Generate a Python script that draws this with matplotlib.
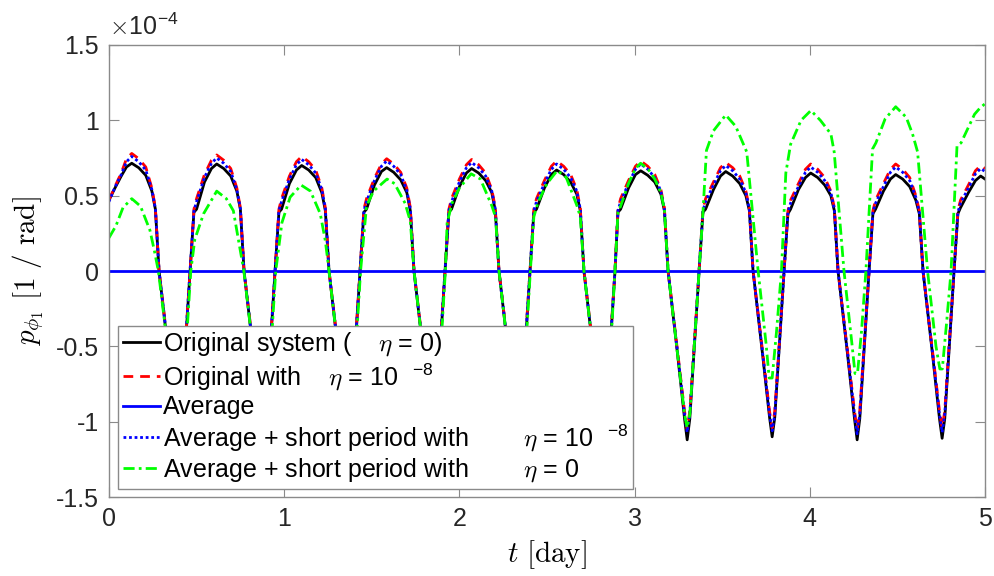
import numpy as np
import matplotlib
matplotlib.use('Agg')
import matplotlib.pyplot as plt
from matplotlib.ticker import FuncFormatter

plt.rcParams['font.family'] = ['Liberation Sans', 'DejaVu Sans']
plt.rcParams['mathtext.fontset'] = 'cm'
plt.rcParams['axes.unicode_minus'] = False

# values in units of 1e-4
# time grid shared by the original / eta=1e-8 / averaged+short-period curves
t_orig = [
    0.0, 0.034, 0.07, 0.10, 0.13, 0.17, 0.21, 0.245, 0.265, 0.286, 0.34, 0.38, 0.395, 0.41, 0.463,
    0.485, 0.50, 0.545, 0.585, 0.615, 0.655, 0.695, 0.73, 0.75, 0.771, 0.825, 0.865, 0.88, 0.895, 0.948,
    0.97, 0.985, 1.03, 1.07, 1.10, 1.14, 1.18, 1.215, 1.235, 1.256, 1.31, 1.35, 1.365, 1.38, 1.433,
    1.455, 1.47, 1.515, 1.555, 1.585, 1.625, 1.665, 1.70, 1.72, 1.741, 1.795, 1.835, 1.85, 1.865, 1.918,
    1.94, 1.955, 2.00, 2.04, 2.07, 2.11, 2.15, 2.185, 2.205, 2.226, 2.28, 2.32, 2.335, 2.35, 2.403,
    2.425, 2.44, 2.485, 2.525, 2.555, 2.595, 2.635, 2.67, 2.69, 2.711, 2.765, 2.805, 2.82, 2.835, 2.888,
    2.905, 2.92, 2.965, 3.005, 3.035, 3.075, 3.115, 3.15, 3.17, 3.191, 3.245, 3.285, 3.30, 3.315, 3.368,
    3.39, 3.405, 3.45, 3.49, 3.52, 3.56, 3.60, 3.635, 3.655, 3.676, 3.73, 3.77, 3.785, 3.80, 3.853,
    3.875, 3.89, 3.935, 3.975, 4.005, 4.045, 4.085, 4.12, 4.14, 4.161, 4.215, 4.255, 4.27, 4.285, 4.338,
    4.36, 4.375, 4.42, 4.46, 4.49, 4.53, 4.57, 4.605, 4.625, 4.646, 4.70, 4.74, 4.755, 4.77, 4.823,
    4.845, 4.86, 4.905, 4.945, 4.975, 5.0,
]

p_original = [
    0.47, 0.55, 0.63, 0.69, 0.715, 0.685, 0.635, 0.53, 0.41, 0.0, -0.55, -0.98, -1.10, -0.98, 0.0,
    0.39, 0.41, 0.59, 0.68, 0.71, 0.68, 0.63, 0.53, 0.41, 0.0, -0.55, -0.98, -1.10, -0.98, 0.0,
    0.39, 0.41, 0.58, 0.67, 0.70, 0.67, 0.62, 0.52, 0.40, 0.0, -0.55, -0.98, -1.10, -0.98, 0.0,
    0.39, 0.41, 0.57, 0.66, 0.686, 0.655, 0.605, 0.52, 0.40, 0.0, -0.55, -0.98, -1.10, -0.98, 0.0,
    0.39, 0.41, 0.56, 0.65, 0.68, 0.65, 0.60, 0.52, 0.40, 0.0, -0.55, -0.98, -1.10, -0.98, 0.0,
    0.39, 0.41, 0.55, 0.64, 0.67, 0.64, 0.59, 0.51, 0.40, 0.0, -0.55, -0.98, -1.10, -0.98, 0.0,
    0.39, 0.41, 0.55, 0.64, 0.665, 0.635, 0.59, 0.51, 0.40, 0.0, -0.55, -0.98, -1.12, -0.98, 0.0,
    0.39, 0.41, 0.54, 0.63, 0.66, 0.63, 0.58, 0.50, 0.40, 0.0, -0.55, -0.97, -1.10, -0.97, 0.0,
    0.38, 0.41, 0.54, 0.62, 0.65, 0.62, 0.57, 0.50, 0.40, 0.0, -0.55, -0.98, -1.12, -0.98, 0.0,
    0.38, 0.41, 0.53, 0.61, 0.64, 0.61, 0.56, 0.47, 0.38, 0.0, -0.55, -0.98, -1.11, -0.98, 0.0,
    0.38, 0.42, 0.52, 0.60, 0.63, 0.61,
]

p_original_eta = [
    0.47, 0.56, 0.65, 0.745, 0.78, 0.745, 0.69, 0.55, 0.42, 0.0, -0.53, -0.93, -1.05, -0.93, 0.0,
    0.41, 0.48, 0.64, 0.735, 0.77, 0.735, 0.68, 0.55, 0.42, 0.0, -0.53, -0.93, -1.05, -0.93, 0.0,
    0.41, 0.48, 0.63, 0.725, 0.76, 0.725, 0.67, 0.55, 0.42, 0.0, -0.53, -0.93, -1.05, -0.93, 0.0,
    0.41, 0.48, 0.615, 0.71, 0.745, 0.71, 0.655, 0.55, 0.42, 0.0, -0.53, -0.93, -1.05, -0.93, 0.0,
    0.41, 0.48, 0.61, 0.705, 0.74, 0.705, 0.65, 0.54, 0.42, 0.0, -0.53, -0.93, -1.05, -0.93, 0.0,
    0.41, 0.48, 0.60, 0.695, 0.73, 0.695, 0.64, 0.54, 0.42, 0.0, -0.53, -0.93, -1.05, -0.93, 0.0,
    0.41, 0.48, 0.60, 0.695, 0.73, 0.695, 0.64, 0.54, 0.42, 0.0, -0.53, -0.93, -1.05, -0.93, 0.0,
    0.41, 0.48, 0.59, 0.685, 0.72, 0.685, 0.63, 0.53, 0.42, 0.0, -0.53, -0.93, -1.04, -0.93, 0.0,
    0.40, 0.47, 0.58, 0.675, 0.71, 0.675, 0.62, 0.53, 0.42, 0.0, -0.53, -0.93, -1.05, -0.93, 0.0,
    0.40, 0.47, 0.58, 0.675, 0.71, 0.675, 0.62, 0.50, 0.40, 0.0, -0.53, -0.93, -1.04, -0.93, 0.0,
    0.40, 0.47, 0.57, 0.665, 0.70, 0.68,
]

p_avg_short_eta = [
    0.46, 0.555, 0.64, 0.725, 0.76, 0.725, 0.67, 0.54, 0.415, 0.0, -0.54, -0.95, -1.07, -0.95, 0.0,
    0.40, 0.46, 0.62, 0.715, 0.75, 0.715, 0.66, 0.54, 0.415, 0.0, -0.54, -0.95, -1.07, -0.95, 0.0,
    0.40, 0.46, 0.61, 0.705, 0.74, 0.705, 0.65, 0.54, 0.415, 0.0, -0.54, -0.95, -1.07, -0.95, 0.0,
    0.40, 0.46, 0.60, 0.695, 0.73, 0.695, 0.64, 0.535, 0.41, 0.0, -0.54, -0.95, -1.07, -0.95, 0.0,
    0.40, 0.46, 0.59, 0.685, 0.72, 0.685, 0.63, 0.53, 0.41, 0.0, -0.54, -0.95, -1.07, -0.95, 0.0,
    0.40, 0.46, 0.58, 0.675, 0.71, 0.675, 0.62, 0.53, 0.41, 0.0, -0.54, -0.95, -1.07, -0.95, 0.0,
    0.40, 0.46, 0.58, 0.675, 0.71, 0.675, 0.62, 0.53, 0.41, 0.0, -0.54, -0.95, -1.07, -0.95, 0.0,
    0.40, 0.46, 0.57, 0.665, 0.70, 0.665, 0.61, 0.52, 0.41, 0.0, -0.54, -0.95, -1.06, -0.95, 0.0,
    0.39, 0.45, 0.56, 0.655, 0.69, 0.655, 0.60, 0.52, 0.41, 0.0, -0.54, -0.95, -1.08, -0.95, 0.0,
    0.39, 0.45, 0.56, 0.655, 0.69, 0.655, 0.60, 0.49, 0.39, 0.0, -0.54, -0.95, -1.07, -0.95, 0.0,
    0.39, 0.45, 0.55, 0.645, 0.68, 0.66,
]

# averaged system (flat)
t_avg = [0.0, 5.0]
p_avg = [0.0, 0.0]

# average + short period with eta = 0
t_short0 = [
    0.0, 0.04, 0.08, 0.13, 0.18, 0.234, 0.26, 0.282, 0.34, 0.385, 0.40, 0.415, 0.467,
    0.49, 0.54, 0.615, 0.67, 0.71, 0.749, 0.77, 0.825, 0.87, 0.885, 0.90, 0.952,
    0.987, 1.034, 1.097, 1.15, 1.206, 1.235, 1.256, 1.31, 1.355, 1.37, 1.385, 1.436,
    1.47, 1.51, 1.587, 1.63, 1.69, 1.72, 1.741, 1.795, 1.84, 1.855, 1.87, 1.92,
    1.93, 1.958, 2.00, 2.067, 2.12, 2.186, 2.206, 2.226, 2.28, 2.325, 2.34, 2.355, 2.405,
    2.425, 2.45, 2.50, 2.558, 2.61, 2.672, 2.69, 2.711, 2.765, 2.81, 2.825, 2.84, 2.888,
    2.905, 2.92, 2.965, 3.005, 3.034, 3.075, 3.115, 3.15, 3.17, 3.191, 3.245, 3.285, 3.30, 3.315, 3.368,
    3.39, 3.41, 3.45, 3.52, 3.577, 3.64, 3.705, 3.75, 3.768, 3.785, 3.81, 3.838,
    3.863, 3.89, 3.95, 4.006, 4.06, 4.12, 4.139, 4.195, 4.24, 4.258, 4.272, 4.295, 4.32,
    4.358, 4.377, 4.43, 4.49, 4.55, 4.586, 4.615, 4.672, 4.72, 4.742, 4.756, 4.78, 4.806,
    4.84, 4.863, 4.94, 4.97, 5.0,
]
p_short0 = [
    0.22, 0.30, 0.42, 0.48, 0.43, 0.27, 0.13, 0.0, -0.55, -0.98, -1.08, -0.98, 0.0,
    0.21, 0.38, 0.53, 0.48, 0.40, 0.14, 0.0, -0.55, -0.98, -1.08, -0.98, 0.0,
    0.32, 0.49, 0.57, 0.53, 0.38, 0.20, 0.0, -0.55, -0.98, -1.08, -0.98, 0.0,
    0.43, 0.53, 0.61, 0.58, 0.45, 0.33, 0.0, -0.55, -0.98, -1.08, -0.98, 0.0,
    0.32, 0.45, 0.55, 0.645, 0.61, 0.43, 0.36, 0.0, -0.55, -0.98, -1.08, -0.98, 0.0,
    0.36, 0.46, 0.58, 0.666, 0.62, 0.43, 0.36, 0.0, -0.55, -0.98, -1.08, -0.98, 0.0,
    0.39, 0.43, 0.58, 0.68, 0.715, 0.68, 0.61, 0.52, 0.41, 0.0, -0.55, -0.95, -1.04, -0.95, 0.0,
    0.39, 0.80, 0.93, 1.035, 0.96, 0.79, 0.0, -0.48, -0.71, -0.71, -0.40, 0.0,
    0.65, 0.84, 1.00, 1.065, 1.00, 0.91, 0.79, 0.0, -0.48, -0.68, -0.68, -0.40, 0.0,
    0.81, 0.85, 1.01, 1.09, 1.02, 0.91, 0.79, 0.0, -0.50, -0.65, -0.65, -0.35, 0.0,
    0.83, 0.85, 1.04, 1.08, 1.11,
]

scale = 1e-4

fig = plt.figure(figsize=(9.95, 5.76), dpi=100)
ax = fig.add_axes([0.1095, 0.137, 0.8805, 0.785])

ax.plot(t_orig, np.array(p_original) * scale, color='k', lw=2.0, label='Original system (    $\\eta$ = 0)')
ax.plot(t_orig, np.array(p_original_eta) * scale, color='r', lw=2.0, ls=(0, (3.5, 2.5)),
        label='Original with    $\\eta$ = 10  $^{\\mathregular{-8}}$')
ax.plot(t_avg, np.array(p_avg) * scale, color=(0, 0, 1), lw=2.0, label='Average')
ax.plot(t_orig, np.array(p_avg_short_eta) * scale, color=(0, 0, 1), lw=2.0, ls=(0, (1, 1)),
        label='Average + short period with        $\\eta$ = 10  $^{\\mathregular{-8}}$')
ax.plot(t_short0, np.array(p_short0) * scale, color=(0, 1, 0), lw=2.0, ls=(0, (4, 1.5, 1, 1.5)),
        label='Average + short period with        $\\eta$ = 0')

ax.set_xlim(0, 5)
ax.set_ylim(-1.5e-4, 1.5e-4)
ax.set_xticks([0, 1, 2, 3, 4, 5])
ax.set_yticks(np.array([-1.5, -1, -0.5, 0, 0.5, 1, 1.5]) * scale)
ax.yaxis.set_major_formatter(FuncFormatter(lambda v, pos: '%g' % round(v / scale, 3)))

grey = '#8a8a8a'
for s in ax.spines.values():
    s.set_color(grey)
    s.set_linewidth(1.0)
ax.tick_params(direction='in', length=7, width=0.8, color=grey, labelcolor='#262626',
               labelsize=18, top=True, right=True, pad=7)

ax.text(0.0, 1.012, '$\\times$10$^{\\mathregular{-4}}$', transform=ax.transAxes,
        fontsize=18, color='#262626', ha='left', va='bottom')

ax.set_xlabel('$t\\ [\\mathrm{day}]$', fontsize=21, labelpad=5)
ax.set_ylabel('$p_{\\phi_1}\\ [1\\ /\\ \\mathrm{rad}]$', fontsize=21, labelpad=7)

leg = ax.legend(loc='lower left', bbox_to_anchor=(0.0103, 0.018), borderaxespad=0,
                fontsize=18, frameon=True, fancybox=False, framealpha=1.0,
                edgecolor=grey, handlelength=1.5, handletextpad=0.1, labelspacing=0.12,
                borderpad=0.2)
leg.get_frame().set_linewidth(1.0)

fig.savefig('out.png', dpi=100)
